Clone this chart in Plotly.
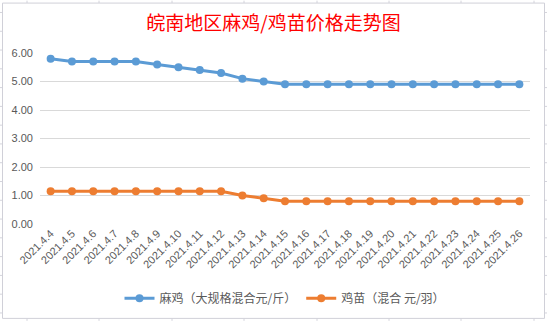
import plotly.graph_objects as go

dates = ["2021.4.4", "2021.4.5", "2021.4.6", "2021.4.7", "2021.4.8", "2021.4.9",
         "2021.4.10", "2021.4.11", "2021.4.12", "2021.4.13", "2021.4.14", "2021.4.15",
         "2021.4.16", "2021.4.17", "2021.4.18", "2021.4.19", "2021.4.20", "2021.4.21",
         "2021.4.22", "2021.4.23", "2021.4.24", "2021.4.25", "2021.4.26"]
maji = [5.8, 5.7, 5.7, 5.7, 5.7, 5.6, 5.5, 5.4, 5.3, 5.1, 5.0, 4.9,
        4.9, 4.9, 4.9, 4.9, 4.9, 4.9, 4.9, 4.9, 4.9, 4.9, 4.9]
jimiao = [1.15, 1.15, 1.15, 1.15, 1.15, 1.15, 1.15, 1.15, 1.15, 1.0, 0.9, 0.8,
          0.8, 0.8, 0.8, 0.8, 0.8, 0.8, 0.8, 0.8, 0.8, 0.8, 0.8]
yticks = [0, 1, 2, 3, 4, 5, 6]
name1 = "麻鸡（大规格混合元/斤）"
name2 = "鸡苗（混合 元/羽）"
title = "皖南地区麻鸡/鸡苗价格走势图"

W, H = 547, 324
L, R, T, B = 40, 17, 53, 98
pw, ph = W - L - R, H - T - B

def px(x):
    return (x - L) / pw

def py(y):
    return (H - B - y) / ph

font = "Noto Sans CJK SC, Noto Sans, sans-serif"

fig = go.Figure()
fig.add_trace(go.Scatter(x=dates, y=maji, name=name1, mode="lines+markers",
                         line=dict(color="#5B9BD5", width=3),
                         marker=dict(color="#5B9BD5", size=8)))
fig.add_trace(go.Scatter(x=dates, y=jimiao, name=name2, mode="lines+markers",
                         line=dict(color="#ED7D31", width=3),
                         marker=dict(color="#ED7D31", size=8)))

shapes = []
# spreadsheet grid behind chart
for xv in [27, 99, 172, 244, 317, 389, 461, 534]:
    shapes.append(dict(type="line", xref="paper", yref="paper", layer="below",
                       x0=px(xv), x1=px(xv), y0=py(0), y1=py(H),
                       line=dict(color="#d4d4dc", width=1)))
for k in range(18):
    yv = 12 + 19 * k
    shapes.append(dict(type="line", xref="paper", yref="paper", layer="below",
                       x0=px(0), x1=px(W), y0=py(yv), y1=py(yv),
                       line=dict(color="#d4d4dc", width=1)))
# chart frame
shapes.append(dict(type="rect", xref="paper", yref="paper", layer="below",
                   x0=px(2.5), x1=px(544.5), y0=py(2.5), y1=py(321.5),
                   fillcolor="white", line=dict(color="#d0d0d8", width=1)))

fig.update_layout(
    width=W, height=H,
    margin=dict(l=L, r=R, t=T, b=B, pad=0),
    paper_bgcolor="white", plot_bgcolor="rgba(0,0,0,0)",
    shapes=shapes,
    title=dict(text=title, x=0.5, xanchor="center", y=1 - 23.5 / H, yanchor="middle",
               xref="container", yref="container",
               font=dict(family=font, size=19, color="#FF0000")),
    xaxis=dict(type="category", range=[-0.5, len(dates) - 0.5], showgrid=False,
               zeroline=False, showline=False,
               tickangle=-45, ticks="", tickfont=dict(family="Liberation Sans, sans-serif", size=11, color="#595959")),
    yaxis=dict(range=[0, 6], tickvals=yticks, tickformat=".2f", showgrid=True,
               gridcolor="#d9d9d9", gridwidth=1, zeroline=False, showline=False, ticks="",
               ticklabelstandoff=6,
               tickfont=dict(family="Liberation Sans, sans-serif", size=11, color="#595959")),
    legend=dict(orientation="h", x=0.5, xanchor="center", y=py(301), yanchor="middle",
                font=dict(family=font, size=12, color="#595959"), bgcolor="rgba(0,0,0,0)",
                itemwidth=30),
    showlegend=True,
)

fig.write_html("out.html")
